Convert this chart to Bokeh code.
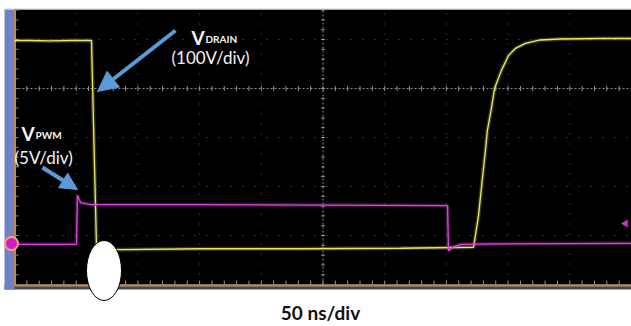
from bokeh.plotting import figure
from bokeh.models import Label, Arrow, NormalHead, Range1d
from bokeh.embed import file_html
from bokeh.resources import INLINE

# ---- data (time in ns, 50 ns/div; vertical in divisions) ----
drain_t = [0, 13, 29, 45, 62.4, 66.5, 86, 151, 232, 313, 372, 376, 379, 381.6, 383.2, 386.5, 389, 394.6, 400.3, 406, 414, 426, 442.5, 475, 500]
drain_v = [0.98, 0.98, 0.97, 0.98, 0.98, -3.27, -3.29, -3.27, -3.27, -3.26, -3.24, -2.6, -1.88, -1.27, -0.86, -0.4, 0.0, 0.37, 0.67, 0.82, 0.92, 0.99, 1.01, 1.02, 1.02]
pwm_t = [0, 30, 50.2, 51.0, 53.5, 61.6, 150, 250, 350.9, 351.7, 355, 361.5, 400, 500]
pwm_v = [-3.18, -3.18, -3.18, -2.18, -2.33, -2.37, -2.37, -2.38, -2.39, -3.31, -3.24, -3.18, -3.17, -3.16]
time_divs = [50, 100, 150, 200, 300, 350, 400, 450]
volt_divs = [1, -1, -2, -3]
labels = {"drain": ("V", "DRAIN", "(100V/div)"), "pwm": ("V", "PWM", "(5V/div)"), "time": "50 ns/div"}

# pixel helpers for layout of the scope frame
def X(px):
    return (px - 14) * 50 / 61.7

def Y(py):
    return (88 - py) / 49

p = figure(width=631, height=326, output_backend="svg", toolbar_location=None,
           x_range=Range1d(X(0), X(631)), y_range=Range1d(Y(326), Y(0)),
           min_border=0, background_fill_color="white", border_fill_color="white")
p.axis.visible = False
p.grid.visible = False
p.outline_line_color = None

# scope frame
p.quad(left=[X(4)], right=[X(640)], top=[Y(284)], bottom=[Y(289)], fill_color="#4a4a4a", line_color=None)
p.quad(left=[X(4)], right=[X(14)], top=[Y(9)], bottom=[Y(289)], fill_color="#6f82c4", line_color=None)
p.quad(left=[X(14)], right=[X(640)], top=[Y(9)], bottom=[Y(284)], fill_color="#000000", line_color=None)
p.segment(x0=[X(4)], y0=[Y(8.5)], x1=[X(640)], y1=[Y(8.5)], line_color="#d0d0d0", line_width=1)
p.segment(x0=[X(14.5)], y0=[Y(9)], x1=[X(14.5)], y1=[Y(285)], line_color="#c58848", line_width=2)
p.segment(x0=[X(14)], y0=[Y(285)], x1=[X(640)], y1=[Y(285)], line_color="#b89060", line_width=2)

# dotted grid
ytop, ybot = Y(9), Y(284)
p.segment(x0=time_divs, y0=[ybot] * len(time_divs), x1=time_divs, y1=[ytop] * len(time_divs),
          line_color="#5a5a5a", line_width=1, line_dash="1 9")
p.segment(x0=[0] * len(volt_divs), y0=volt_divs, x1=[520] * len(volt_divs), y1=volt_divs,
          line_color="#5a5a5a", line_width=1, line_dash="1 11")
# center cross
p.segment(x0=[0], y0=[0], x1=[520], y1=[0], line_color="#8a8a8a", line_width=1, line_dash="2 2")
p.segment(x0=[250], y0=[ybot], x1=[250], y1=[ytop], line_color="#8a8a8a", line_width=1, line_dash="2 2")
minor_t = [10 * i for i in range(1, 51)]
minor_v = [ybot + 0.2 * i for i in range(1, 30) if ybot + 0.2 * i < ytop]
p.segment(x0=minor_t, y0=[-0.05] * len(minor_t), x1=minor_t, y1=[0.05] * len(minor_t), line_color="#9a9a9a", line_width=1)
p.segment(x0=[248.5] * len(minor_v), y0=minor_v, x1=[251.5] * len(minor_v), y1=minor_v, line_color="#9a9a9a", line_width=1)
p.segment(x0=minor_t, y0=[ybot] * len(minor_t), x1=minor_t, y1=[ybot + 0.08] * len(minor_t), line_color="#9a9a9a", line_width=1)
p.segment(x0=[X(14)] * len(minor_v), y0=minor_v, x1=[X(18)] * len(minor_v), y1=minor_v, line_color="#b08050", line_width=1)

# traces
p.line(drain_t, drain_v, line_color="#d8d850", line_width=4, line_alpha=0.25)
p.line(drain_t, drain_v, line_color="#e8e86a", line_width=1.3)
p.line(pwm_t, pwm_v, line_color="#c030c0", line_width=4, line_alpha=0.3)
p.line(pwm_t, pwm_v, line_color="#d848d8", line_width=1.3)

# channel markers
p.scatter([X(11)], [Y(243)], size=13, marker="circle", fill_color="#d01cc0", line_color="#f2a080", line_width=2)
p.scatter([X(625)], [Y(223)], size=8, marker="triangle", angle=1.5708, fill_color="#d030d0", line_color=None)

# white ellipse
p.ellipse(x=[X(103.5)], y=[Y(270)], width=[35 * 50 / 61.7], height=[60 / 49],
          fill_color="white", line_color="black", line_width=1)

# arrows
blue = "#5b9bd5"
p.add_layout(Arrow(end=NormalHead(size=20, fill_color=blue, line_color=blue),
                   x_start=X(175), y_start=Y(30), x_end=X(97), y_end=Y(91),
                   line_color=blue, line_width=4))
p.add_layout(Arrow(end=NormalHead(size=17, fill_color=blue, line_color=blue),
                   x_start=X(42), y_start=Y(167), x_end=X(77), y_end=Y(189),
                   line_color=blue, line_width=4))

# texts
font = "Lato"
def lab(x, y, t, size, style="normal", color="#f4f4f4", align="left", baseline="alphabetic"):
    p.add_layout(Label(x=X(x), y=Y(y), text=t, text_font=font, text_font_size=size,
                       text_font_style=style, text_color=color, text_align=align,
                       text_baseline=baseline))

lab(191, 37, labels["drain"][0], "19px", "bold")
lab(205, 38, labels["drain"][1], "10px", "bold")
lab(171, 57, labels["drain"][2], "17px")
lab(21, 133, labels["pwm"][0], "19px", "bold")
lab(35, 134, labels["pwm"][1], "10px", "bold")
lab(14, 157, labels["pwm"][2], "17px")
lab(320, 312, labels["time"], "19px", "bold", "#111111", "center", "middle")

open("out.html", "w").write(file_html(p, INLINE))
